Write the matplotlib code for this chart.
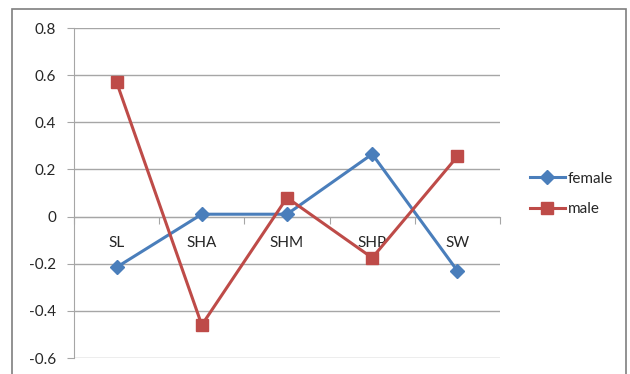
import numpy as np
import matplotlib.pyplot as plt
from matplotlib.patches import Rectangle

categories = ['SL', 'SHA', 'SHM', 'SHP', 'SW']
female = [-0.215, 0.01, 0.01, 0.265, -0.23]
male = [0.57, -0.46, 0.08, -0.175, 0.255]
y_ticks = [-0.6, -0.4, -0.2, 0, 0.2, 0.4, 0.6, 0.8]
y_labels = ['-0.6', '-0.4', '-0.2', '0', '0.2', '0.4', '0.6', '0.8']

blue = '#4a7ebb'
red = '#be4b48'
grid_grey = '#a6a6a6'
text_col = '#262626'

plt.rcParams['font.family'] = ['Lato', 'DejaVu Sans']
plt.rcParams['font.size'] = 11

W, H = 630, 374
fig = plt.figure(figsize=(W / 100, H / 100), dpi=100)

# outer chart border
fig.patches.append(Rectangle((12 / W, -0.05), 614 / W, 1 - 9 / H + 0.05,
                             transform=fig.transFigure, fill=False,
                             edgecolor='#7f7f7f', linewidth=1.2))

ax = fig.add_axes([74 / W, 1 - 358 / H, 426 / W, 330 / H])
x = np.arange(len(categories))

ax.set_xlim(-0.5, len(categories) - 0.5)
ax.set_ylim(-0.6, 0.8)
ax.set_yticks(y_ticks)
ax.set_yticklabels(y_labels, color=text_col)
ax.yaxis.grid(True, color=grid_grey, linewidth=1)
ax.set_axisbelow(True)

for s in ['top', 'right']:
    ax.spines[s].set_visible(False)
ax.spines['left'].set_color(grid_grey)
ax.spines['bottom'].set_position(('data', 0))
ax.spines['bottom'].set_color(grid_grey)

ax.tick_params(axis='y', direction='out', length=5, color=grid_grey, pad=8)

# category boundaries get the tick marks, names sit between them
ax.set_xticks(np.arange(len(categories) + 1) - 0.5)
ax.set_xticklabels([])
ax.tick_params(axis='x', which='major', direction='out', length=5, color=grid_grey)
ax.set_xticks(x, minor=True)
ax.set_xticklabels(categories, minor=True, color=text_col)
ax.tick_params(axis='x', which='minor', length=0, pad=14)

ax.plot(x, female, color=blue, linewidth=2.2, marker='D', markersize=7,
        label='female', zorder=3)
ax.plot(x, male, color=red, linewidth=2.2, marker='s', markersize=8.5,
        label='male', zorder=3)

ax.legend(loc='center left', bbox_to_anchor=(522 / W, 1 - 194 / H),
          bbox_transform=fig.transFigure, frameon=False, handlelength=2.3,
          handletextpad=0.2, labelspacing=1.1, borderpad=0,
          labelcolor=text_col)

fig.savefig('out.png', dpi=100)
